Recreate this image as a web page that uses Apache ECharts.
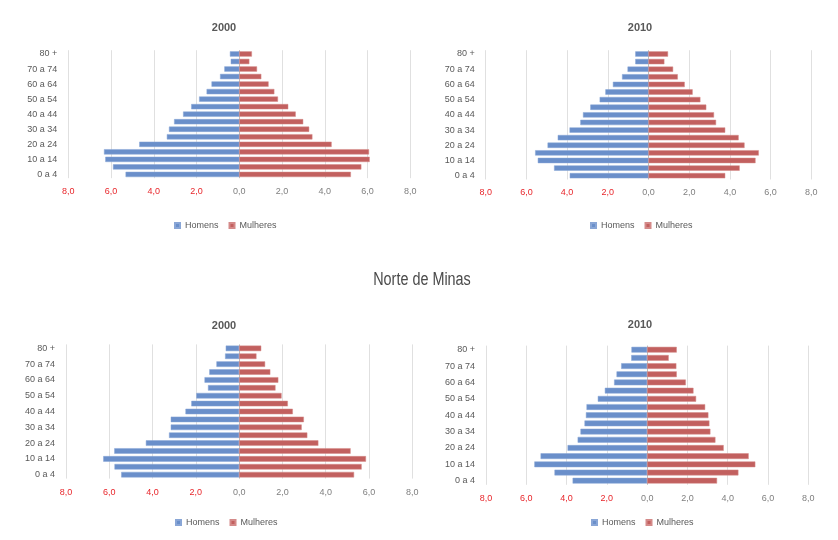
<!DOCTYPE html>
<html><head><meta charset="utf-8">
<script src="https://cdn.jsdelivr.net/npm/echarts@6/dist/echarts.min.js"></script>
<style>html,body{margin:0;padding:0;background:#fff}#c{width:838px;height:540px}</style>
</head><body><div id="c"></div>
<script>
const categories = ['0 a 4','5 a 9','10 a 14','15 a 19','20 a 24','25 a 29','30 a 34','35 a 39','40 a 44','45 a 49','50 a 54','55 a 59','60 a 64','65 a 69','70 a 74','75 a 79','80 +'];
const xTicks = [-8, -6, -4, -2, 0, 2, 4, 6, 8];
// Top-left: 2000
const homens2000a   = [5.32, 5.91, 6.27, 6.33, 4.68, 3.39, 3.29, 3.05, 2.63, 2.25, 1.88, 1.53, 1.30, 0.90, 0.70, 0.40, 0.44];
const mulheres2000a = [5.22, 5.71, 6.10, 6.07, 4.32, 3.42, 3.27, 2.99, 2.64, 2.29, 1.81, 1.64, 1.37, 1.03, 0.83, 0.47, 0.59];
// Top-right: 2010
const homens2010a   = [3.87, 4.64, 5.44, 5.57, 4.96, 4.46, 3.88, 3.35, 3.22, 2.86, 2.40, 2.12, 1.75, 1.30, 1.03, 0.65, 0.65];
const mulheres2010a = [3.77, 4.48, 5.26, 5.42, 4.72, 4.43, 3.77, 3.32, 3.22, 2.84, 2.55, 2.17, 1.78, 1.44, 1.21, 0.78, 0.96];
// Bottom-left: Norte de Minas 2000
const homens2000b   = [5.45, 5.76, 6.28, 5.77, 4.31, 3.24, 3.16, 3.16, 2.48, 2.21, 1.98, 1.44, 1.60, 1.38, 1.05, 0.65, 0.62];
const mulheres2000b = [5.31, 5.66, 5.86, 5.15, 3.66, 3.15, 2.89, 2.99, 2.48, 2.25, 1.96, 1.68, 1.81, 1.44, 1.20, 0.80, 1.02];
// Bottom-right: Norte de Minas 2010
const homens2010b   = [3.70, 4.60, 5.60, 5.29, 3.95, 3.45, 3.31, 3.11, 3.04, 3.01, 2.45, 2.10, 1.64, 1.52, 1.29, 0.79, 0.78];
const mulheres2010b = [3.47, 4.53, 5.37, 5.04, 3.80, 3.39, 3.14, 3.09, 3.04, 2.88, 2.43, 2.30, 1.92, 1.47, 1.45, 1.07, 1.47];

const panels = [
  {title:'2000', h:homens2000a, m:mulheres2000a, grid:{left:68.3, top:50.2, width:342, height:128}, tx:219, ty:17, lx:174, ly:221},
  {title:'2010', h:homens2010a, m:mulheres2010a, grid:{left:485.7, top:50.2, width:325.6, height:129.3}, tx:635, ty:17, lx:590, ly:221},
  {title:'2000', h:homens2000b, m:mulheres2000b, grid:{left:66, top:344.4, width:346.3, height:134.2}, tx:219, ty:315, lx:175, ly:518},
  {title:'2010', h:homens2010b, m:mulheres2010b, grid:{left:486, top:345.6, width:322.3, height:139.2}, tx:635, ty:314, lx:591, ly:518}
];

const FONT = '"Liberation Sans", Arial, sans-serif';
const BLUE = '#6a8fca', RED = '#c2605f';
const gridColors = xTicks.map(t => t === 0 ? '#bdbdbd' : '#e0e0e0');

const option = {
  backgroundColor:'#fff',
  animation:false,
  title: panels.map(p => ({text:p.title, left:p.tx, top:p.ty, textAlign:'center',
      textStyle:{fontFamily:FONT, fontSize:11, fontWeight:'bold', color:'#595959'}})),
  graphic: [{type:'text', x:422, y:280, scaleX:0.8, scaleY:1,
      style:{text:'Norte de Minas', fontFamily:FONT, fontSize:18, fill:'#4a4a4a', align:'center', verticalAlign:'middle'}}],
  legend: panels.map(p => ({data:['Homens','Mulheres'], left:p.lx, top:p.ly, itemWidth:5, itemHeight:5, itemGap:10,
      icon:'rect', textStyle:{fontFamily:FONT, fontSize:9, color:'#595959'}, padding:0, selectedMode:false})),
  grid: panels.map(p => Object.assign({containLabel:false}, p.grid)),
  xAxis: panels.map((p,i) => ({type:'value', gridIndex:i, min:-8, max:8, interval:2,
      axisLine:{show:false}, axisTick:{show:false},
      splitLine:{show:true, lineStyle:{color:gridColors, width:1}},
      axisLabel:{fontFamily:FONT, fontSize:9, margin:9,
        formatter: v => Math.abs(v).toFixed(1).replace('.', ','),
        color: v => (v < 0 ? '#e8262b' : '#7f7f7f')}})),
  yAxis: panels.map((p,i) => ({type:'category', gridIndex:i, data:categories,
      axisLine:{show:false}, axisTick:{show:false},
      axisLabel:{interval:1, fontFamily:FONT, fontSize:9, color:'#595959', margin:11}})),
  series: []
};
panels.forEach((p,i) => {
  option.series.push({name:'Homens', type:'bar', xAxisIndex:i, yAxisIndex:i,
    data:p.h.map(v => -v), barCategoryGap:'30%', barGap:'-100%',
    itemStyle:{color:BLUE, borderColor:'#89a6d6', borderWidth:0.5}});
  option.series.push({name:'Mulheres', type:'bar', xAxisIndex:i, yAxisIndex:i,
    data:p.m.slice(), barCategoryGap:'30%', barGap:'-100%',
    itemStyle:{color:RED, borderColor:'#d48a89', borderWidth:0.5}});
});
const chart = echarts.init(document.getElementById('c'), null, {renderer:'canvas'});
chart.setOption(option);
</script></body></html>
